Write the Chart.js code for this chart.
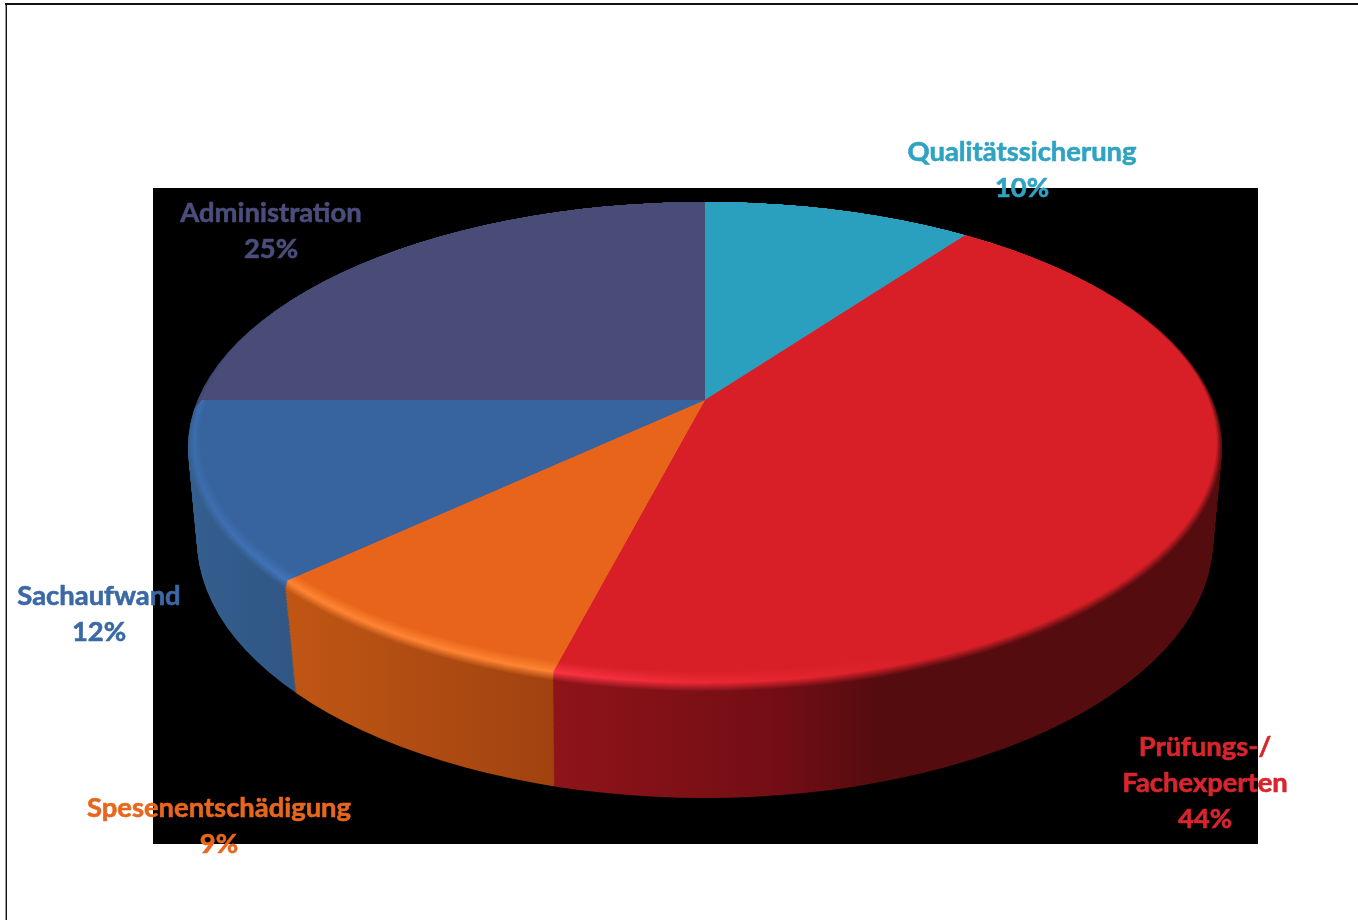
<!DOCTYPE html>
<html lang="de">
<head>
<meta charset="utf-8">
<title>Kostenverteilung</title>
<script src="https://cdn.jsdelivr.net/npm/chart.js@4"></script>
<style>
    html, body { margin: 0; padding: 0; background: #fff; overflow: hidden; }
    canvas { display: block; }
</style>
</head>
<body>
<canvas id="myChart" width="1358" height="920"></canvas>
<script>
const categories = ['Qualitätssicherung', ['Prüfungs-/', 'Fachexperten'], 'Spesenentschädigung', 'Sachaufwand', 'Administration'];
const shares = [10, 44, 9, 12, 25];
const sliceColors = ['#2BA0BE', '#D81F27', '#E8641A', '#37649F', '#4A4C78'];
const labelColors = ['#2FA3C2', '#D9252D', '#E8661D', '#3A69A6', '#4B4E7C'];

// Beschriftung: Mitte des Textblocks
const labelCenters = [[1022, 152], [1205, 747], [219, 808], [99, 596], [271, 213]];

// Seitenwand und Lichtkante, jeweils [x, [r, g, b]]
const wallStops = [
    [[200, [44, 130, 155]], [1200, [44, 130, 155]]],
    [[553, [142, 20, 25]], [780, [115, 13, 21]], [880, [84, 12, 15]], [1220, [84, 12, 15]]],
    [[285, [192, 86, 20]], [556, [160, 66, 16]]],
    [[195, [52, 94, 142]], [292, [48, 86, 132]]],
    [[190, [58, 70, 110]], [700, [58, 70, 110]]]
];
const glowStops = [
    [[200, [43, 160, 190]], [1200, [43, 160, 190]]],
    [[553, [250, 52, 68]], [720, [234, 40, 52]], [920, [216, 31, 39]], [1220, [216, 31, 39]]],
    [[285, [255, 132, 50]], [556, [255, 132, 50]]],
    [[190, [60, 108, 172]], [292, [66, 116, 186]]],
    [[190, [74, 76, 120]], [700, [74, 76, 120]]]
];

const apexY = 400, squash = 0.46, wallDrop = 115, rimDrop = 8;
const topRim = { cx: 705, cy: 447, rx: 517, ry: 245 };
const footRim = { cx: 705, cy: 540, rx: 508, ry: 258 };
const bevel = 20, bevelPeak = 9;

function hexRgb(h) {
    return [1, 3, 5].map(i => parseInt(h.substr(i, 2), 16));
}

function mix(a, b, t) {
    return a.map((v, i) => Math.round(v + (b[i] - v) * t));
}

function sideGradient(ctx, stops) {
    const x0 = stops[0][0], x1 = stops[stops.length - 1][0];
    const g = ctx.createLinearGradient(x0, 0, x1, 0);
    stops.forEach(s => g.addColorStop((s[0] - x0) / (x1 - x0), `rgb(${s[1].join(',')})`));
    return g;
}

function wallColorAt(i, x) {
    const stops = wallStops[i];
    for (let k = 1; k < stops.length; k++) {
        if (x <= stops[k][0]) {
            return mix(stops[k - 1][1], stops[k][1], Math.max(0, (x - stops[k - 1][0]) / (stops[k][0] - stops[k - 1][0])));
        }
    }
    return stops[stops.length - 1][1];
}

// alle Segmente einmal gestaucht zeichnen, beschnitten auf die Ellipse
function drawLayer(chart, rim, drop, fills) {
    const ctx = chart.ctx;
    ctx.save();
    ctx.beginPath();
    ctx.ellipse(rim.cx, rim.cy, rim.rx, rim.ry, 0, 0, Math.PI * 2);
    ctx.clip();
    ctx.translate(0, apexY + drop);
    ctx.scale(1, squash);
    ctx.translate(0, -apexY);
    chart.getDatasetMeta(0).data.forEach((arc, i) => {
        const saved = arc.options;
        arc.options = Object.assign({}, saved, { backgroundColor: fills[i], borderWidth: 0 });
        arc.draw(ctx);
        arc.options = saved;
    });
    ctx.restore();
}

const piePlugin = {
    id: 'flatPie',
    beforeDraw(chart) {
        const ctx = chart.ctx;
        ctx.fillStyle = '#fff';
        ctx.fillRect(0, 0, 1358, 920);
        ctx.fillStyle = '#000';
        ctx.fillRect(153, 188, 1105, 656);
        ctx.fillStyle = '#111';
        ctx.fillRect(5, 3, 1353, 2);
        ctx.fillRect(6, 3, 1, 917);
        ctx.fillStyle = '#999';
        ctx.fillRect(5, 5, 1, 915);
    },
    beforeDatasetsDraw(chart) {
        const ctx = chart.ctx;
        // Wand von unten nach oben aufbauen
        const wallFills = wallStops.map(s => sideGradient(ctx, s));
        for (let d = wallDrop; d >= 0; d -= 2) {
            const t = d / wallDrop;
            drawLayer(chart, {
                cx: 705,
                cy: topRim.cy + (footRim.cy - topRim.cy) * t,
                rx: topRim.rx + (footRim.rx - topRim.rx) * t,
                ry: topRim.ry + (footRim.ry - topRim.ry) * t
            }, rimDrop + (wallDrop - rimDrop) * t, wallFills);
        }
        // Lichtkante, nur vorne sichtbar
        const base = sliceColors.map(hexRgb);
        for (let e = 0; e <= bevel; e++) {
            const fills = glowStops.map((stops, i) => sideGradient(ctx, stops.map(s => {
                const c = e < bevelPeak
                    ? mix(wallColorAt(i, s[0]), s[1], e / bevelPeak)
                    : mix(s[1], base[i], (e - bevelPeak) / (bevel - bevelPeak));
                return [s[0], c];
            })));
            drawLayer(chart, {
                cx: 705,
                cy: topRim.cy - e / 2,
                rx: topRim.rx - e * 0.6,
                ry: topRim.ry - e / 2
            }, Math.max(0, bevelPeak - e) * rimDrop / bevelPeak, fills);
        }
        return false;
    },
    afterDraw(chart) {
        const ctx = chart.ctx;
        ctx.save();
        ctx.font = 'bold 27.4px Lato';
        ctx.textAlign = 'center';
        ctx.textBaseline = 'middle';
        ctx.lineWidth = 0.6;
        categories.forEach((name, i) => {
            const lines = [].concat(name, shares[i] + '%');
            ctx.fillStyle = labelColors[i];
            ctx.strokeStyle = labelColors[i];
            lines.forEach((line, k) => {
                const y = labelCenters[i][1] + k * 36;
                ctx.fillText(line, labelCenters[i][0], y);
                ctx.strokeText(line, labelCenters[i][0], y);
            });
        });
        ctx.restore();
    }
};

new Chart(document.getElementById('myChart').getContext('2d'), {
    type: 'pie',
    data: {
        labels: categories,
        datasets: [{ data: shares, backgroundColor: sliceColors, borderWidth: 0, radius: 720 }]
    },
    options: {
        responsive: false,
        animation: false,
        layout: { padding: { left: 52, bottom: 120 } },
        plugins: { legend: { display: false }, tooltip: { enabled: false } }
    },
    plugins: [piePlugin]
});
</script>
</body>
</html>
